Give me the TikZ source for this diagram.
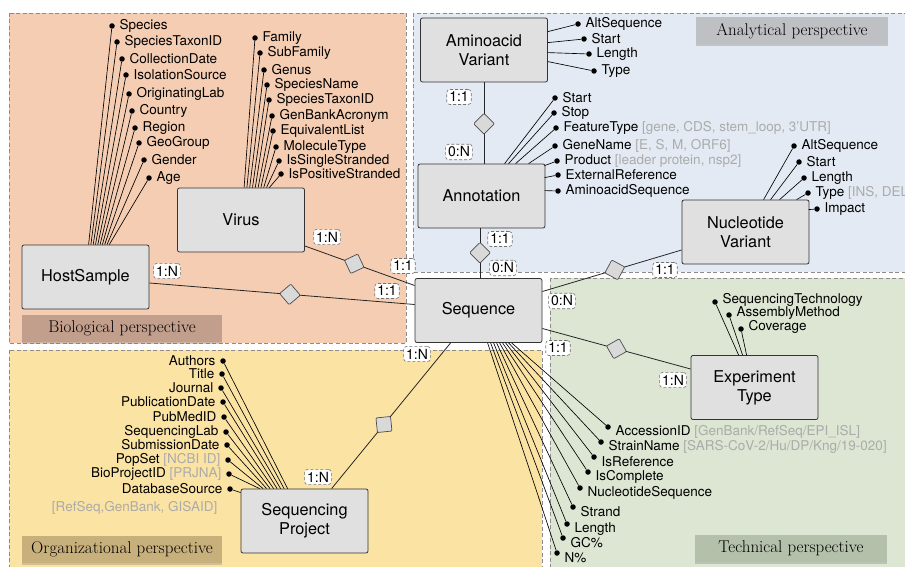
\documentclass[tikz,border=0pt]{standalone}
\usepackage{fontspec}
\newfontfamily\hv{TeX Gyre Heros}
\usetikzlibrary{shapes.geometric,calc,shadows}
\definecolor{bioC}{HTML}{F5CDB2}
\definecolor{anaC}{HTML}{E4EAF3}
\definecolor{orgC}{HTML}{FBE3A4}
\definecolor{tecC}{HTML}{DCE6D3}
\definecolor{bioL}{HTML}{C29F8D}
\definecolor{anaL}{HTML}{BEC0C4}
\definecolor{orgL}{HTML}{C8B07C}
\definecolor{tecL}{HTML}{B5C0AB}
\definecolor{entC}{HTML}{E0E0E0}
\definecolor{noteC}{HTML}{ABABAB}
\definecolor{bordC}{HTML}{8C8C8C}
\begin{document}
\begin{tikzpicture}[x=1pt,y=-1pt,
  region/.style={draw=bordC, dash pattern=on 4pt off 2.5pt, line width=0.8pt},
  persp/.style={fill=#1, text=black, font=\fontsize{17}{20}\selectfont, minimum height=27pt, inner sep=0pt,
     drop shadow={shadow xshift=0pt, shadow yshift=-2pt, opacity=0.35}},
  entity/.style={draw=black!80, fill=entC, rounded corners=2pt, minimum width=127pt, minimum height=64pt,
     align=center, font=\hv\fontsize{16.3}{19}\selectfont, inner sep=2pt, line width=0.8pt},
  rel/.style={draw=black!85, line width=0.8pt},
  diam/.style={diamond, aspect=1, draw=black!70, fill=black!15, minimum size=21pt, inner sep=0pt, rounded corners=1pt, line width=0.7pt},
  card/.style={draw=black!55, densely dashed, fill=white, rounded corners=3pt, inner sep=2.5pt, line width=0.6pt,
     font=\hv\fontsize{14}{16}\selectfont},
  dotn/.style={circle, fill=black, inner sep=0pt, minimum size=5.5pt},
  attr/.style={font=\hv\fontsize{13.5}{15}\selectfont, inner sep=4.5pt},
  aline/.style={draw=black, line width=0.65pt}]
\useasboundingbox (0,0) rectangle (905,567);
\fill[white] (0,0) rectangle (905,567);
% regions
\draw[region, fill=bioC] (9,13) rectangle (406,343);
\draw[region, fill=anaC] (413,13) rectangle (915,272);
\draw[region, fill=orgC] (9,350) rectangle (542,580);
\draw[region, fill=tecC] (550,278) rectangle (915,580);
% perspective labels
\node[persp=anaL, minimum width=192pt] (anaLbl) at (792,31) {Analytical perspective};
\node[persp=bioL, minimum width=200pt] (bioLbl) at (122,328) {Biological perspective};
\node[persp=orgL, minimum width=200pt] (orgLbl) at (122,549) {Organizational perspective};
\node[persp=tecL, minimum width=192pt] (tecLbl) at (791,548) {Technical perspective};
% entities
\node[entity] (hs) at (85.5,277) {HostSample};
\node[entity] (vir) at (241,220) {Virus};
\node[entity] (av) at (484,50) {Aminoacid\\Variant};
\node[entity] (ann) at (481.5,196) {Annotation};
\node[entity] (nv) at (745.5,232) {Nucleotide\\Variant};
\node[entity] (seq) at (478.5,310.5) {Sequence};
\node[entity] (et) at (754.5,387.5) {Experiment\\Type};
\node[entity] (sp) at (304.5,521) {Sequencing\\Project};
% relationships
\coordinate (hsR) at ($(hs.east)+(0,6)$);
\coordinate (seqL1) at ($(seq.west)+(0,-6)$);
\draw[rel] (hsR) -- node[diam, sloped, pos=0.53] (dm1) {} (seqL1);
\coordinate (virR) at ($(vir.east)+(0,26)$);
\coordinate (seqL2) at ($(seq.west)+(0,-25)$);
\draw[rel] (virR) -- node[diam, sloped, pos=0.45] (dm2) {} (seqL2);
\draw[rel] (av.south) -- node[diam, sloped, pos=0.51] (dm3) {} (av.south |- ann.north);
\coordinate (annS) at ($(ann.south)+(-1.5,0)$);
\draw[rel] (annS) -- node[diam, sloped, pos=0.49] (dm4) {} (annS |- seq.north);
\coordinate (nvL) at ($(nv.west)+(0,18)$);
\coordinate (seqR1) at ($(seq.east)+(0,-19)$);
\draw[rel] (nvL) -- node[diam, sloped, pos=0.48] (dm5) {} (seqR1);
\coordinate (seqR2) at ($(seq.east)+(0,18)$);
\coordinate (etL) at ($(et.west)+(0,-18.5)$);
\draw[rel] (seqR2) -- node[diam, sloped, pos=0.5] (dm6) {} (etL);
\coordinate (seqB) at ($(seq.south west)+(36,0)$);
\coordinate (spT) at ($(sp.north west)+(91,0)$);
\draw[rel] (seqB) -- node[diam, sloped, pos=0.56] (dm7) {} (spT);
% HostSample attributes
\foreach \x/\y/\t [count=\i from 0] in {112/26/Species, 117/42/SpeciesTaxonID, 122/59/CollectionDate,
   126/75/IsolationSource, 129/94/OriginatingLab, 132/111/Country, 135/128/Region, 139/143/GeoGroup,
   144/160/Gender, 149/178/Age} {
  \node[dotn] (hsA\i) at (\x,\y) {};
  \node[attr, anchor=west] (hsT\i) at (hsA\i.east) {\t};
  \draw[aline] (hsA\i) -- ($(hs.north west)+(67+2.3*\i,0)$);
}
% Virus attributes
\foreach \x/\y/\t [count=\i from 0] in {255/38/Family, 260/53/SubFamily, 264/70/Genus, 267/85/SpeciesName,
   269/100/SpeciesTaxonID, 272/116/GenBankAcronym, 273/131/EquivalentList, 276/147/MoleculeType,
   279/161/IsSingleStranded, 281/174/IsPositiveStranded} {
  \node[dotn] (virA\i) at (\x,\y) {};
  \node[attr, anchor=west] (virT\i) at (virA\i.east) {\t};
  \draw[aline] (virA\i) -- ($(vir.north west)+(67+2.8*\i,0)$);
}
% Aminoacid Variant attributes
\foreach \x/\y/\sy/\t [count=\i from 0] in {578/24/14/AltSequence, 584/39/25/Start, 589/54/35/Length, 594/71/44/Type} {
  \node[dotn] (avA\i) at (\x,\y) {};
  \node[attr, anchor=west] (avT\i) at (avA\i.east) {\t};
  \draw[aline] (avA\i) -- ($(av.north east)+(0,\sy)$);
}
% Annotation attributes
\foreach \x/\y/\sx/\sy/\t [count=\i from 0] in {555/98/87/0/Start, 554/113/91/0/Stop,
   556/128/98/0/{FeatureType \textcolor{noteC}{[gene, CDS, stem\_loop, 3’UTR]}},
   555/146/111/0/{GeneName \textcolor{noteC}{[E, S, M, ORF6]}},
   557/161/127/2/{Product \textcolor{noteC}{[leader protein, nsp2]}},
   558/175/127/14/ExternalReference, 558/191/127/27/AminoacidSequence} {
  \node[dotn] (annA\i) at (\x,\y) {};
  \node[attr, anchor=west] (annT\i) at (annA\i.east) {\t};
  \draw[aline] (annA\i) -- ($(ann.north west)+(\sx,\sy)$);
}
% Nucleotide Variant attributes
\foreach \x/\y/\sx/\sy/\t [count=\i from 0] in {794/146/82/0/AltSequence, 799/162/89/0/Start,
   804/178/98/0/Length, 808/193/115/0/{Type \textcolor{noteC}{[INS, DEL]}}, 817/209/127/10/Impact} {
  \node[dotn] (nvA\i) at (\x,\y) {};
  \node[attr, anchor=west] (nvT\i) at (nvA\i.east) {\t};
  \draw[aline] (nvA\i) -- ($(nv.north west)+(\sx,\sy)$);
}
% Experiment Type attributes
\foreach \x/\y/\t [count=\i from 0] in {715/302/SequencingTechnology, 729/315/AssemblyMethod, 741/329/Coverage} {
  \node[dotn] (etA\i) at (\x,\y) {};
  \node[attr, anchor=west] (etT\i) at ($(etA\i.east)+(0,-2)$) {\t};
  \draw[aline] (etA\i) -- ($(et.north west)+(48+4*\i,0)$);
}
% Sequence attributes
\foreach \x/\y/\t [count=\i from 0] in {608/427/{AccessionID \textcolor{noteC}{[GenBank/RefSeq/EPI\_ISL]}},
   601/442/{StrainName \textcolor{noteC}{[SARS-CoV-2/Hu/DP/Kng/19-020]}}, 594/457/IsReference, 588/472/IsComplete,
   580/488/NucleotideSequence, 573/507/Strand, 567/524/Length, 563/538/GC\%, 557/553/N\%} {
  \node[dotn] (seqA\i) at (\x,\y) {};
  \node[attr, anchor=west] (seqT\i) at ($(seqA\i.east)+(0,5)$) {\t};
  \draw[aline] (seqA\i) -- ($(seq.south west)+(97-3*\i,0)$);
}
% Sequencing Project attributes
\foreach \x/\y/\t [count=\i from 0] in {223/361/Authors, 222/374/Title, 221/388/Journal, 223/402/PublicationDate,
   224/417/PubMedID, 226/432/SequencingLab, 227/445/SubmissionDate,
   228/460/{PopSet \textcolor{noteC}{[NCBI ID]}}, 229/474/{BioProjectID \textcolor{noteC}{[PRJNA]}}} {
  \node[dotn] (spA\i) at (\x,\y) {};
  \node[attr, anchor=east] (spT\i) at (spA\i.west) {\t};
  \draw[aline] (spA\i) -- ($(sp.north west)+(47-3.5*\i,0)$);
}
\node[dotn] (spA9) at (230,489) {};
\node[attr, anchor=east] (spT9) at (spA9.west) {DatabaseSource};
\draw[aline] (spA9) -- ($(sp.north west)+(0,4)$);
\node[attr, anchor=east, text=noteC] (spN9) at (222,508) {[RefSeq,GenBank, GISAID]};
% cardinalities
\node[card] (c1) at (167,271) {1:N};
\node[card] (c2) at (387,291) {1:1};
\node[card] (c3) at (327,237) {1:N};
\node[card] (c4) at (403,266) {1:1};
\node[card] (c5) at (459,97) {1:1};
\node[card] (c6) at (459,152) {0:N};
\node[card] (c7) at (500,239) {1:1};
\node[card] (c8) at (503,268) {0:N};
\node[card] (c9) at (665,270) {1:1};
\node[card] (c10) at (562,301) {0:N};
\node[card] (c11) at (558,348) {1:1};
\node[card] (c12) at (673,380) {1:N};
\node[card] (c13) at (417,354) {1:N};
\node[card] (c14) at (318,477) {1:N};
\end{tikzpicture}
\end{document}
